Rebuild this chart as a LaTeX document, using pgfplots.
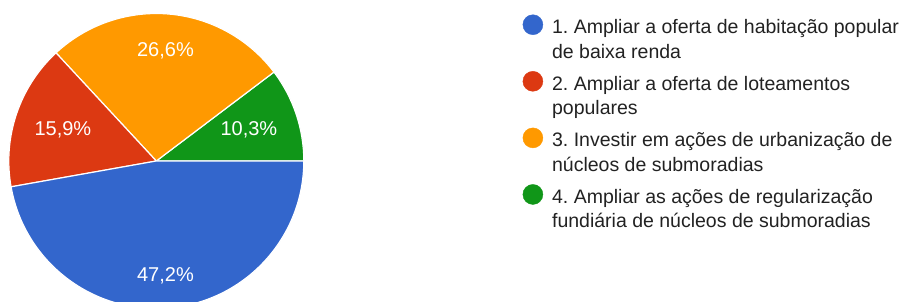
\documentclass[border=0pt]{standalone}
\usepackage{pgfplots}
\pgfplotsset{compat=1.18}
\usepackage{fontspec}
\setmainfont{Liberation Sans}
\frenchspacing
\definecolor{gblue}{HTML}{3366CC}
\definecolor{gred}{HTML}{DC3912}
\definecolor{gorange}{HTML}{FF9900}
\definecolor{ggreen}{HTML}{109618}
\definecolor{legtext}{HTML}{222222}
\begin{document}
\begin{tikzpicture}
\useasboundingbox (0,0) rectangle (904pt,302pt);
\clip (0,0) rectangle (904pt,302pt);
% shares in percent (counter-clockwise from 3 o'clock): green, orange, red, blue
\def\pGreen{10.3}
\def\pOrange{26.6}
\def\pRed{15.9}
\def\pBlue{47.2}
\pgfmathsetmacro{\aA}{0}
\pgfmathsetmacro{\aB}{\aA+3.6*\pGreen}
\pgfmathsetmacro{\aC}{\aB+3.6*\pOrange}
\pgfmathsetmacro{\aD}{\aC+3.6*\pRed}
\pgfmathsetmacro{\aE}{\aD+3.6*\pBlue}
\begin{axis}[
  x=147.5pt, y=147.5pt,
  xmin=-1, xmax=1, ymin=-1, ymax=1,
  hide axis, clip=false,
  at={(156.3pt,141pt)}, anchor=center,
  legend cell align=left,
  legend style={at={(1.742,0.9965)}, anchor=north west, draw=none, fill=none,
    inner sep=0pt, outer sep=0pt, row sep=11.5pt, column sep=9pt,
    font=\fontsize{19.5}{24.5}\selectfont,
    nodes={inner sep=0pt, outer sep=0pt, align=left, text=legtext}},
  legend image code/.code={\fill (10pt,13.3pt) circle (10pt);},
]
\addlegendimage{color=gblue}
\addlegendentry{\strut 1. Ampliar a oferta de habitação popular\\\strut de baixa renda}
\addlegendimage{color=gred}
\addlegendentry{\strut 2. Ampliar a oferta de loteamentos\\\strut populares}
\addlegendimage{color=gorange}
\addlegendentry{\strut 3. Investir em ações de urbanização de\\\strut núcleos de submoradias}
\addlegendimage{color=ggreen}
\addlegendentry{\strut 4. Ampliar as ações de regularização\\\strut fundiária de núcleos de submoradias}

\fill[ggreen, draw=white, line width=1.2pt] (axis cs:0,0) -- ++(\aA:147.5pt) arc[start angle=\aA, end angle=\aB, radius=147.5pt] -- cycle;
\fill[gorange, draw=white, line width=1.2pt] (axis cs:0,0) -- ++(\aB:147.5pt) arc[start angle=\aB, end angle=\aC, radius=147.5pt] -- cycle;
\fill[gred, draw=white, line width=1.2pt] (axis cs:0,0) -- ++(\aC:147.5pt) arc[start angle=\aC, end angle=\aD, radius=147.5pt] -- cycle;
\fill[gblue, draw=white, line width=1.2pt] (axis cs:0,0) -- ++(\aD:147.5pt) arc[start angle=\aD, end angle=\aE, radius=147.5pt] -- cycle;

\node[text=white, font=\fontsize{20}{24}\selectfont] at (axis cs:0.062,-0.776) {47,2\%};
\node[text=white, font=\fontsize{20}{24}\selectfont] at (axis cs:0.062,0.748) {26,6\%};
\node[text=white, font=\fontsize{20}{24}\selectfont] at (axis cs:-0.633,0.210) {15,9\%};
\node[text=white, font=\fontsize{20}{24}\selectfont] at (axis cs:0.628,0.210) {10,3\%};
\end{axis}
\end{tikzpicture}
\end{document}
